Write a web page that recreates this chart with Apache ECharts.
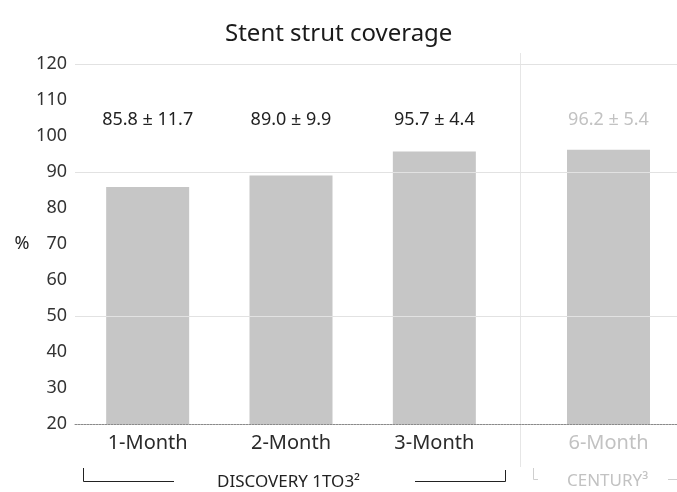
<!DOCTYPE html>
<html>
<head>
<meta charset="utf-8">
<script src="https://cdn.jsdelivr.net/npm/echarts@6/dist/echarts.min.js"></script>
<style>
  html, body { margin: 0; padding: 0; background: #fff; }
  #chart { width: 677px; height: 492px; }
</style>
</head>
<body>
<div id="chart"></div>
<script>
// DISCOVERY 1TO3 follow-up points
const discoveryMonths = ['1-Month', '2-Month', '3-Month'];
const discoveryMeans = [85.8, 89.0, 95.7];
const discoverySd = [11.7, 9.9, 4.4];

// CENTURY reference point
const centuryMonths = ['6-Month'];
const centuryMeans = [96.2];
const centurySd = [5.4];

// value axis
const yMin = 20;
const yMax = 120;
const yStep = 10;
const guideLevels = [120, 90, 50];
const labelLevel = 104.5;

const FONT = '"Noto Sans", "DejaVu Sans", sans-serif';
const BAR = '#c6c6c6';
const FAINT = '#c2c2c2';

function statText(mean, sd) {
  return mean.toFixed(1) + ' \u00b1 ' + sd.toFixed(1);
}

// "mean ± sd" captions placed on one common level above the bars
function statMarks(means, sds, color) {
  return {
    symbol: 'rect',
    symbolSize: 1,
    silent: true,
    itemStyle: { color: 'rgba(0,0,0,0)' },
    label: {
      show: true,
      position: 'inside',
      formatter: p => p.name,
      color: color,
      fontFamily: FONT,
      fontSize: 18
    },
    data: means.map((m, i) => ({ name: statText(m, sds[i]), coord: [i, labelLevel] }))
  };
}

const chart = echarts.init(document.getElementById('chart'), null, { renderer: 'canvas' });

const hiddenY = idx => ({
  type: 'value', gridIndex: idx, min: yMin, max: yMax, interval: yStep, show: false
});

chart.setOption({
  animation: false,
  backgroundColor: '#fff',
  title: {
    text: 'Stent strut coverage',
    left: 220,
    top: 17,
    textStyle: { fontFamily: FONT, fontSize: 24, fontWeight: 'normal', color: '#1a1a1a' }
  },
  grid: [
    { left: 75, right: 0, top: 64, bottom: 68 },
    { left: 76, width: 430, top: 64, bottom: 68 },
    { left: 540, width: 137, top: 64, bottom: 68 }
  ],
  xAxis: [
    {
      type: 'value', gridIndex: 0, min: 0, max: 1,
      axisLine: { show: true, lineStyle: { color: '#8a8a8a', type: [2, 1], width: 1 } },
      axisTick: { show: false }, axisLabel: { show: false }, splitLine: { show: false }
    },
    {
      type: 'category', gridIndex: 1, data: discoveryMonths,
      axisLine: { show: false }, axisTick: { show: false },
      axisLabel: { fontFamily: FONT, fontSize: 20, color: '#2a2a2a', margin: 9 }
    },
    {
      type: 'category', gridIndex: 2, data: centuryMonths,
      axisLine: { show: false }, axisTick: { show: false },
      axisLabel: { fontFamily: FONT, fontSize: 20, color: FAINT, margin: 9 }
    }
  ],
  yAxis: [
    {
      type: 'value', gridIndex: 0, min: yMin, max: yMax, interval: yStep,
      axisLine: { show: false }, axisTick: { show: false }, splitLine: { show: false },
      axisLabel: { fontFamily: FONT, fontSize: 18, color: '#333', margin: 8 }
    },
    hiddenY(1),
    hiddenY(2)
  ],
  series: [
    {
      type: 'line', xAxisIndex: 0, yAxisIndex: 0, z: 1, silent: true,
      data: [],
      markLine: {
        silent: true, symbol: 'none', label: { show: false },
        lineStyle: { color: '#e2e2e2', type: 'solid', width: 1 },
        data: guideLevels.map(v => ({ yAxis: v }))
      }
    },
    {
      type: 'bar', xAxisIndex: 1, yAxisIndex: 1, z: 3,
      data: discoveryMeans, barWidth: 83,
      itemStyle: { color: BAR },
      markPoint: statMarks(discoveryMeans, discoverySd, '#222')
    },
    {
      type: 'bar', xAxisIndex: 2, yAxisIndex: 2, z: 3,
      data: centuryMeans, barWidth: 83,
      itemStyle: { color: BAR },
      markPoint: statMarks(centuryMeans, centurySd, FAINT)
    }
  ],
  graphic: [
    {
      type: 'line', z: 0, silent: true,
      shape: { x1: 520.5, y1: 53, x2: 520.5, y2: 467 },
      style: { stroke: '#e6e6e6', lineWidth: 1 }
    },
    {
      type: 'text', silent: true, x: 22, y: 244,
      style: { text: '%', fontFamily: FONT, fontSize: 18, fill: '#222', align: 'center', verticalAlign: 'middle' }
    },
    {
      type: 'polyline', silent: true,
      shape: { points: [[83.5, 468], [83.5, 481.5], [174, 481.5]] },
      style: { stroke: '#222', lineWidth: 1, fill: null }
    },
    {
      type: 'text', silent: true, x: 217, y: 482,
      style: { text: 'DISCOVERY 1TO3\u00b2', fontFamily: FONT, fontSize: 17, fill: '#222', align: 'left', verticalAlign: 'middle' }
    },
    {
      type: 'polyline', silent: true,
      shape: { points: [[415, 481.5], [505.5, 481.5], [505.5, 470]] },
      style: { stroke: '#222', lineWidth: 1, fill: null }
    },
    {
      type: 'polyline', silent: true,
      shape: { points: [[533.5, 468], [533.5, 479.5], [538, 479.5]] },
      style: { stroke: '#cfcfcf', lineWidth: 1, fill: null }
    },
    {
      type: 'text', silent: true, x: 567, y: 481,
      style: { text: 'CENTURY\u00b3', fontFamily: FONT, fontSize: 17, fill: FAINT, align: 'left', verticalAlign: 'middle' }
    },
    {
      type: 'line', silent: true,
      shape: { x1: 668, y1: 479.5, x2: 677, y2: 479.5 },
      style: { stroke: '#cfcfcf', lineWidth: 1 }
    }
  ]
});
</script>
</body>
</html>
